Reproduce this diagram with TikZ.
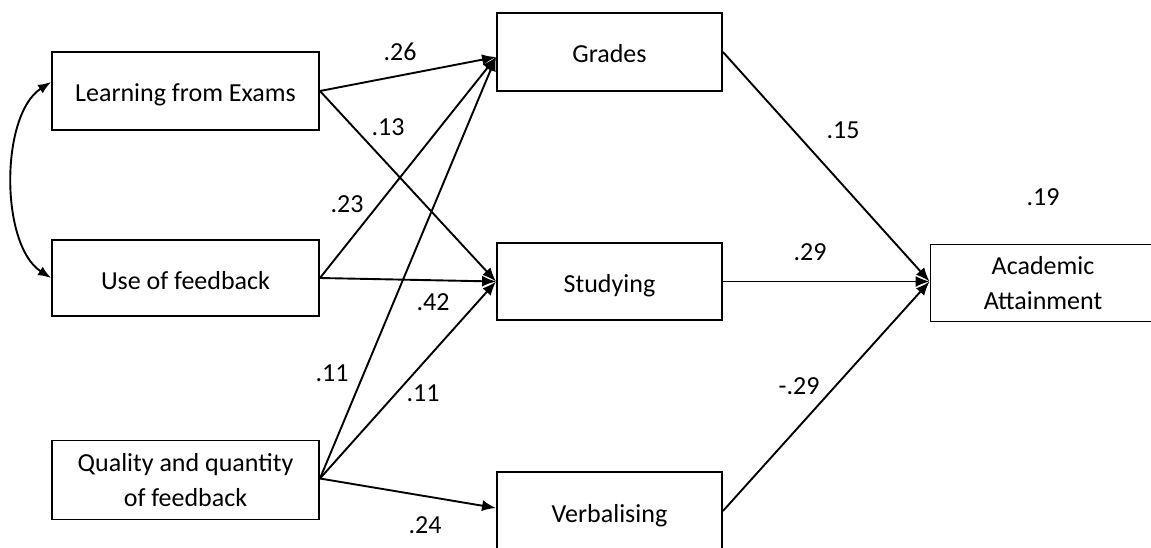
\documentclass[tikz,border=0pt]{standalone}
\usepackage{fontspec}
\setmainfont{Carlito}
\usetikzlibrary{arrows.meta}
\begin{document}
\begin{tikzpicture}[x=1pt,y=-1pt,
  txt/.style={font=\fontsize{26}{35}\selectfont, align=center},
  one/.style={text height=28pt, text depth=6pt},
  lbox/.style={txt, draw, line width=1.9pt, minimum width=267pt, minimum height=78pt, inner sep=0pt},
  mbox/.style={txt, draw, line width=1.9pt, minimum width=225pt, minimum height=78pt, inner sep=0pt},
  lab/.style={font=\fontsize{26}{30}\selectfont, inner sep=0pt},
  conn/.style={line width=1.9pt, -{Latex[length=14pt,width=11pt]}},
  dconn/.style={line width=1.9pt, {Latex[length=13pt,width=10pt]}-{Latex[length=13pt,width=10pt]}}]
\useasboundingbox (0,0) rectangle (1151,548);
\clip (0,0) rectangle (1151,548);
% boxes
\node[lbox, one] (learn) at (185.5,91) {Learning from Exams};
\node[lbox, one, minimum height=76pt] (use) at (185.5,278) {Use of feedback};
\node[lbox, minimum height=79pt] (qual) at (185.5,480) {Quality and quantity\\of feedback};
\node[mbox, one] (grades) at (609.5,52) {Grades};
\node[mbox, one, minimum height=77pt] (study) at (609.5,281.5) {Studying};
\node[mbox, one] (verb) at (609.5,511) {Verbalising};
\node[mbox, minimum height=77pt] (acad) at (1043,283) {Academic\\Attainment};
% connectors
\draw[dconn] ([yshift=9pt]learn.west) .. controls (0,115) and (0,245) .. (use.west);
\draw[conn] (learn.east) -- ([yshift=-5pt]grades.west);
\draw[conn] (learn.east) -- (study.west);
\draw[conn] (use.east) -- ([yshift=-5pt]grades.west);
\draw[conn] (use.east) -- (study.west);
\draw[conn] ([yshift=1.5pt]qual.east) -- ([yshift=-5pt]grades.west);
\draw[conn] ([yshift=1.5pt]qual.east) -- (study.west);
\draw[conn] ([yshift=1.5pt]qual.east) -- ([yshift=3pt]verb.west);
\draw[conn] (grades.east) -- ([yshift=1.5pt]acad.west);
\draw[conn] (study.east) -- ([yshift=1.5pt]acad.west);
\draw[conn] (verb.east) -- ([yshift=1.5pt]acad.west);
% labels
\node[lab] (l26) at (400,52) {.26};
\node[lab] (l13) at (388,127) {.13};
\node[lab] (l23) at (347,204) {.23};
\node[lab] (l42) at (433,302) {.42};
\node[lab] (l11a) at (332,373) {.11};
\node[lab] (l11b) at (423,393) {.11};
\node[lab] (l24) at (425,525) {.24};
\node[lab] (l15) at (843,130) {.15};
\node[lab] (l29) at (810,252) {.29};
\node[lab] (lm29) at (799,386) {-.29};
\node[lab] (l19) at (1043,197) {.19};
\end{tikzpicture}
\end{document}
